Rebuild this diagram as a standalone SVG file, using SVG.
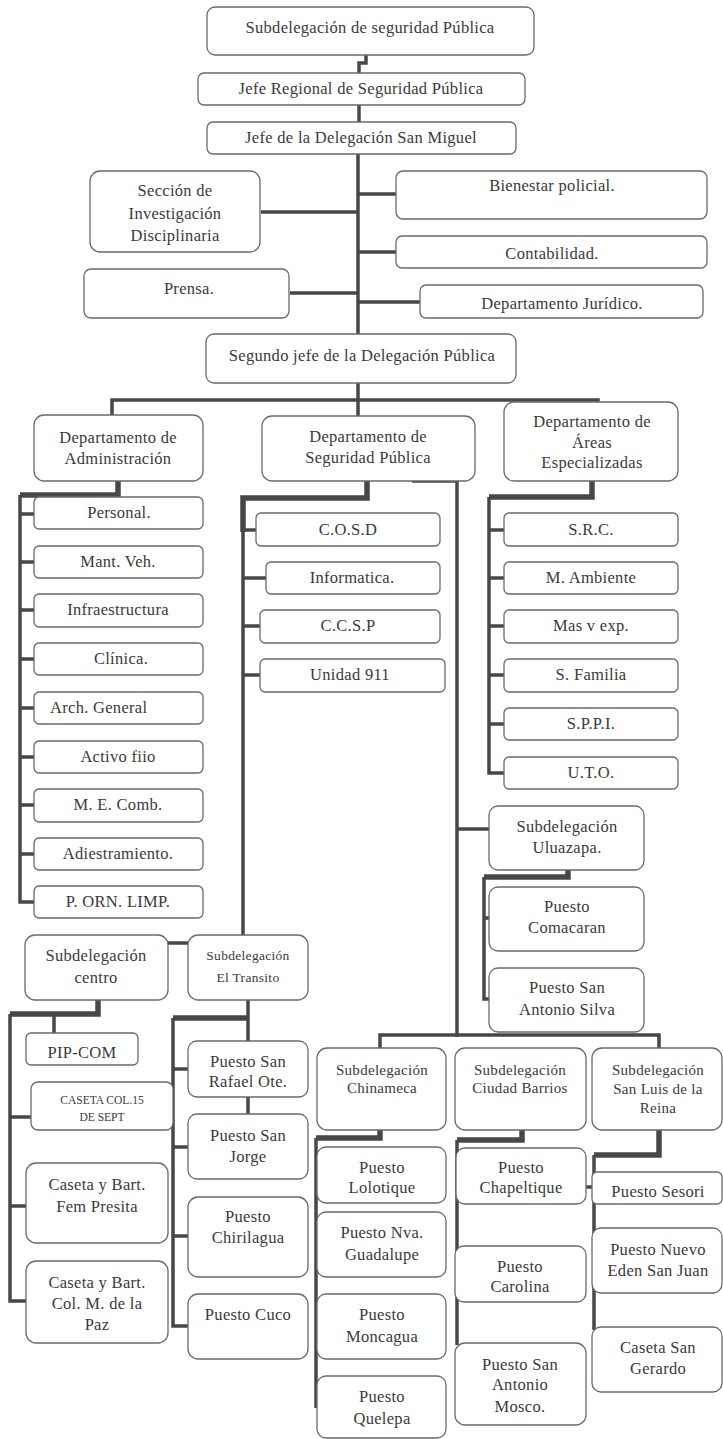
<svg xmlns="http://www.w3.org/2000/svg" width="723" height="1439" viewBox="0 0 723 1439">
<style>
rect{fill:#fff;stroke:#6a6a6a;stroke-width:1.3}
text{font-family:"Liberation Serif","Times New Roman",serif;fill:#3a3a3a;text-anchor:middle;font-size:16.5px;letter-spacing:0.3px}
.s{font-size:15px}
.xs{font-size:13.5px}
.xxs{font-size:11.5px;letter-spacing:0}
.l{text-anchor:start}
#connectors path{fill:none;stroke:#474747;stroke-width:3.5;stroke-linejoin:miter}
#connectors .k{stroke-width:5.5}
</style>
<rect x="0" y="0" width="723" height="1439" style="fill:#fff;stroke:none"/>
<g id="connectors">
<path d="M366,55 V63 H359 V73"/>
<path d="M359,105 V122"/>
<path d="M358,154 V334"/>
<path d="M358,194 H396 M261,212 H358 M358,252 H396 M290,293 H358 M358,302 H420"/>
<path d="M358,383 V416"/>
<path d="M112,415 V400 H598 V402"/>
<path class="k" d="M118,481 V495 H20"/>
<path d="M20,495 V902 H34 M20,514 H34 M20,562 H34 M20,610 H34 M20,659 H34 M20,708 H34 M20,757 H34 M20,805 H34 M20,854 H34"/>
<path class="k" d="M367,481 V498 H243 V532"/>
<path d="M243,530 V935 M243,530 H256 M243,578 H266 M243,626 H260 M243,675 H260"/>
<path d="M412,481 H457 V1037"/>
<path class="k" d="M592,481 V497 H489"/>
<path d="M489,497 V773 H504 M489,530 H504 M489,578 H504 M489,626 H504 M489,675 H504 M489,724 H504"/>
<path d="M457,829 H489"/>
<path class="k" d="M568,870 V877 H484"/>
<path d="M484,877 V999 H489 M484,918 H489"/>
<path d="M380,1048 V1035 H659 V1048"/>
<path class="k" d="M380,1130 V1138 H316"/>
<path d="M316,1138 V1408"/>
<path class="k" d="M522,1130 V1140 H457"/>
<path d="M457,1140 V1345"/>
<path class="k" d="M659,1130 V1155 H594"/>
<path d="M594,1155 V1330 M586,1187 H592"/>
<path d="M168,943 H188"/>
<path class="k" d="M98,1000 V1014 H10"/>
<path d="M10,1014 V1301 H26 M54,1014 V1033 M10,1117 H31 M10,1206 H26"/>
<path d="M248,1000 V1041 M248,1097 V1114"/>
<path class="k" d="M248,1018 H173"/>
<path d="M173,1018 V1326 H188 M173,1069 H188 M173,1147 H188 M173,1236 H188"/>
</g>
<g id="n1"><rect x="207" y="7" width="327" height="48" rx="8"/><text x="370" y="33">Subdelegación de seguridad Pública</text></g>
<g id="n2"><rect x="198" y="73" width="327" height="32" rx="6"/><text x="361" y="94">Jefe Regional de Seguridad Pública</text></g>
<g id="n3"><rect x="207" y="122" width="309" height="32" rx="6"/><text x="361" y="143">Jefe de la Delegación San Miguel</text></g>
<g id="n4"><rect x="90" y="171" width="170" height="81" rx="10"/><text x="175" y="196">Sección de</text><text x="175" y="219">Investigación</text><text x="175" y="241">Disciplinaria</text></g>
<g id="n5"><rect x="396" y="171" width="311" height="48" rx="7"/><text x="552" y="191">Bienestar policial.</text></g>
<g id="n6"><rect x="396" y="236" width="311" height="32" rx="6"/><text x="552" y="259">Contabilidad.</text></g>
<g id="n7"><rect x="84" y="269" width="205" height="49" rx="7"/><text x="189" y="294">Prensa.</text></g>
<g id="n8"><rect x="420" y="285" width="283" height="33" rx="6"/><text x="562" y="309">Departamento Jurídico.</text></g>
<g id="n9"><rect x="206" y="334" width="310" height="49" rx="8"/><text x="362" y="361">Segundo jefe de la Delegación Pública</text></g>
<g id="n10"><rect x="34" y="415" width="169" height="66" rx="10"/><text x="118" y="443">Departamento de</text><text x="118" y="464">Administración</text></g>
<g id="n11"><rect x="262" y="416" width="213" height="65" rx="10"/><text x="368" y="442">Departamento de</text><text x="368" y="463">Seguridad Pública</text></g>
<g id="n12"><rect x="504" y="402" width="174" height="79" rx="10"/><text x="592" y="427">Departamento de</text><text x="592" y="448">Áreas</text><text x="592" y="468">Especializadas</text></g>
<g id="a1"><rect x="34" y="497" width="169" height="32" rx="5"/><text x="119" y="518">Personal.</text></g>
<g id="a2"><rect x="34" y="546" width="169" height="32" rx="5"/><text x="118" y="567">Mant. Veh.</text></g>
<g id="a3"><rect x="34" y="594" width="169" height="33" rx="5"/><text x="118" y="615">Infraestructura</text></g>
<g id="a4"><rect x="34" y="643" width="169" height="32" rx="5"/><text x="121" y="664">Clínica.</text></g>
<g id="a5"><rect x="34" y="692" width="169" height="32" rx="5"/><text class="l" x="50" y="713">Arch. General</text></g>
<g id="a6"><rect x="34" y="741" width="169" height="32" rx="5"/><text x="118" y="762">Activo fiio</text></g>
<g id="a7"><rect x="34" y="789" width="169" height="33" rx="5"/><text x="118" y="810">M. E. Comb.</text></g>
<g id="a8"><rect x="34" y="838" width="169" height="32" rx="5"/><text x="118" y="859">Adiestramiento.</text></g>
<g id="a9"><rect x="34" y="886" width="169" height="32" rx="5"/><text x="118" y="907">P. ORN. LIMP.</text></g>
<g id="s1"><rect x="256" y="513" width="184" height="33" rx="5"/><text x="348" y="535">C.O.S.D</text></g>
<g id="s2"><rect x="266" y="562" width="174" height="32" rx="5"/><text x="352" y="583">Informatica.</text></g>
<g id="s3"><rect x="260" y="610" width="180" height="33" rx="5"/><text x="348" y="631">C.C.S.P</text></g>
<g id="s4"><rect x="260" y="659" width="185" height="33" rx="5"/><text x="350" y="680">Unidad 911</text></g>
<g id="e1"><rect x="504" y="513" width="174" height="33" rx="5"/><text x="591" y="535">S.R.C.</text></g>
<g id="e2"><rect x="504" y="562" width="174" height="32" rx="5"/><text x="591" y="583">M. Ambiente</text></g>
<g id="e3"><rect x="504" y="610" width="174" height="33" rx="5"/><text x="591" y="631">Mas v exp.</text></g>
<g id="e4"><rect x="504" y="659" width="174" height="33" rx="5"/><text x="591" y="680">S. Familia</text></g>
<g id="e5"><rect x="504" y="708" width="174" height="32" rx="5"/><text x="591" y="729">S.P.P.I.</text></g>
<g id="e6"><rect x="504" y="757" width="174" height="32" rx="5"/><text x="591" y="778">U.T.O.</text></g>
<g id="u0"><rect x="489" y="806" width="155" height="64" rx="9"/><text x="567" y="832">Subdelegación</text><text x="567" y="853">Uluazapa.</text></g>
<g id="u1"><rect x="489" y="887" width="155" height="64" rx="9"/><text x="567" y="912">Puesto</text><text x="567" y="933">Comacaran</text></g>
<g id="u2"><rect x="489" y="968" width="155" height="64" rx="9"/><text x="567" y="993">Puesto San</text><text x="567" y="1015">Antonio Silva</text></g>
<g id="c0"><rect x="25" y="935" width="143" height="65" rx="10"/><text x="96" y="961">Subdelegación</text><text x="96" y="983">centro</text></g>
<g id="c1"><rect x="26" y="1033" width="112" height="32" rx="5"/><text x="82" y="1058">PIP-COM</text></g>
<g id="c2"><rect x="31" y="1082" width="142" height="48" rx="7"/><text class="xxs" x="102" y="1104">CASETA COL.15</text><text class="xxs" x="102" y="1121">DE SEPT</text></g>
<g id="c3"><rect x="26" y="1163" width="142" height="80" rx="10"/><text x="97" y="1190">Caseta y Bart.</text><text x="97" y="1212">Fem Presita</text></g>
<g id="c4"><rect x="26" y="1261" width="142" height="82" rx="10"/><text x="97" y="1288">Caseta y Bart.</text><text x="97" y="1309">Col. M. de la</text><text x="97" y="1330">Paz</text></g>
<g id="t0"><rect x="188" y="935" width="120" height="65" rx="10"/><text class="xs" x="248" y="960">Subdelegación</text><text class="xs" x="248" y="982">El Transito</text></g>
<g id="t1"><rect x="188" y="1041" width="120" height="56" rx="9"/><text x="248" y="1067">Puesto San</text><text x="248" y="1087">Rafael Ote.</text></g>
<g id="t2"><rect x="188" y="1114" width="120" height="65" rx="9"/><text x="248" y="1141">Puesto San</text><text x="248" y="1162">Jorge</text></g>
<g id="t3"><rect x="188" y="1197" width="120" height="80" rx="10"/><text x="248" y="1222">Puesto</text><text x="248" y="1243">Chirilagua</text></g>
<g id="t4"><rect x="188" y="1294" width="120" height="65" rx="10"/><text x="248" y="1320">Puesto Cuco</text></g>
<g id="h0"><rect x="317" y="1048" width="129" height="82" rx="10"/><text class="s" x="382" y="1075">Subdelegación</text><text class="s" x="382" y="1093">Chinameca</text></g>
<g id="h1"><rect x="317" y="1147" width="129" height="56" rx="9"/><text x="382" y="1173">Puesto</text><text x="382" y="1193">Lolotique</text></g>
<g id="h2"><rect x="317" y="1212" width="129" height="65" rx="9"/><text x="382" y="1238">Puesto Nva.</text><text x="382" y="1260">Guadalupe</text></g>
<g id="h3"><rect x="317" y="1294" width="129" height="65" rx="9"/><text x="382" y="1320">Puesto</text><text x="382" y="1342">Moncagua</text></g>
<g id="h4"><rect x="317" y="1376" width="129" height="62" rx="9"/><text x="382" y="1402">Puesto</text><text x="382" y="1424">Quelepa</text></g>
<g id="b0"><rect x="455" y="1048" width="131" height="82" rx="10"/><text class="s" x="520" y="1075">Subdelegación</text><text class="s" x="520" y="1093">Ciudad Barrios</text></g>
<g id="b1"><rect x="456" y="1148" width="130" height="56" rx="9"/><text x="521" y="1173">Puesto</text><text x="521" y="1193">Chapeltique</text></g>
<g id="b2"><rect x="455" y="1246" width="131" height="56" rx="9"/><text x="520" y="1272">Puesto</text><text x="520" y="1292">Carolina</text></g>
<g id="b3"><rect x="455" y="1343" width="131" height="82" rx="10"/><text x="520" y="1370">Puesto San</text><text x="520" y="1390">Antonio</text><text x="520" y="1412">Mosco.</text></g>
<g id="l0"><rect x="592" y="1048" width="130" height="82" rx="10"/><text class="s" x="658" y="1075">Subdelegación</text><text class="s" x="658" y="1094">San Luis de la</text><text class="s" x="658" y="1113">Reina</text></g>
<g id="l1"><rect x="592" y="1172" width="130" height="32" rx="5"/><text x="658" y="1197">Puesto Sesori</text></g>
<g id="l2"><rect x="592" y="1228" width="130" height="65" rx="9"/><text x="658" y="1255">Puesto Nuevo</text><text x="658" y="1276">Eden San Juan</text></g>
<g id="l3"><rect x="592" y="1327" width="130" height="65" rx="9"/><text x="658" y="1353">Caseta San</text><text x="658" y="1374">Gerardo</text></g>
</svg>
